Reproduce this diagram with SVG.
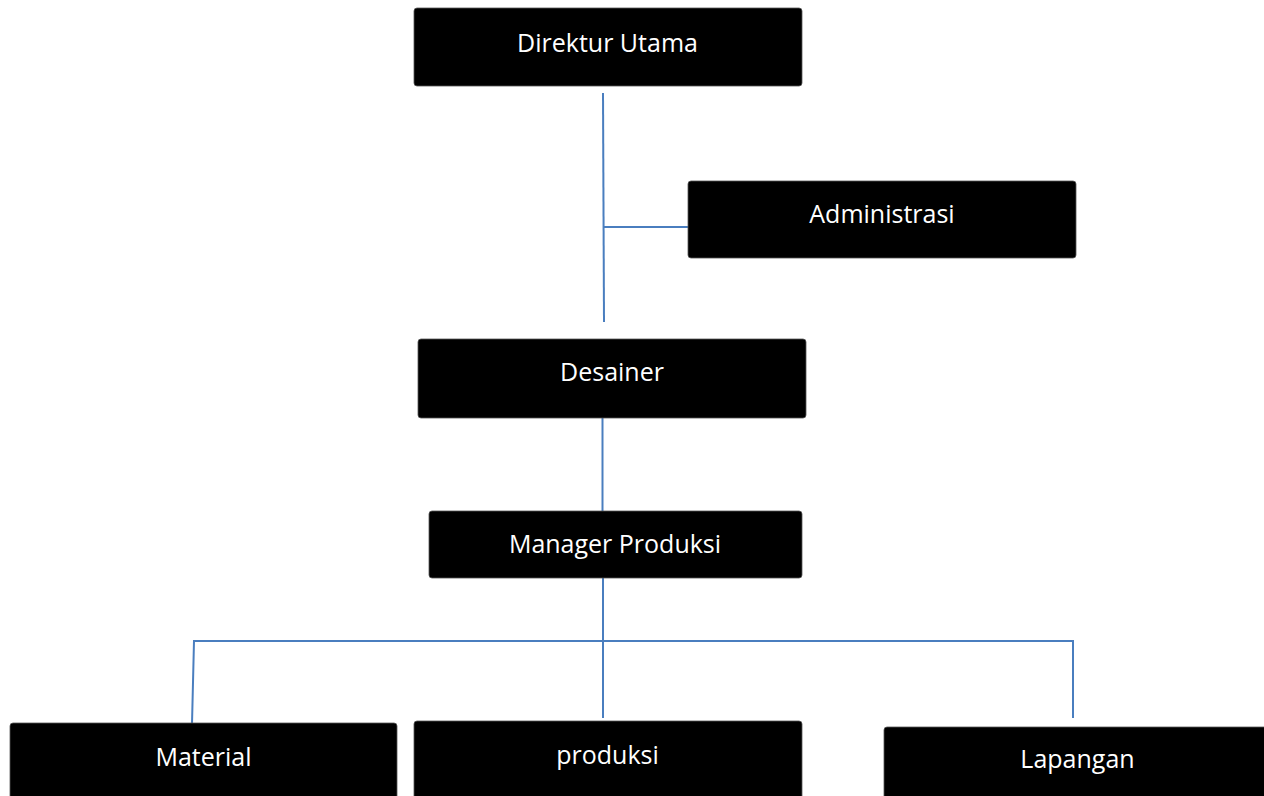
<svg xmlns="http://www.w3.org/2000/svg" width="1264" height="796" viewBox="0 0 1264 796">
<style>
.box{fill:#000;stroke:#555;stroke-width:0.8}
.lbl{fill:#fff;font-family:"Open Sans","Liberation Sans",sans-serif;font-size:25px;text-anchor:middle}
.conn{stroke:#4a7ebf;stroke-width:2;fill:none}
</style>
<rect width="1264" height="796" fill="#fff"/>
<g id="connectors">
<line class="conn" x1="603" y1="93" x2="604" y2="322"/>
<line class="conn" x1="604" y1="227" x2="690" y2="227"/>
<line class="conn" x1="602.5" y1="413" x2="602.5" y2="522"/>
<line class="conn" x1="603" y1="578" x2="603" y2="718"/>
<polyline class="conn" points="192,724 194,641 1073,641 1073,718"/>
</g>
<g id="n-direktur"><rect class="box" x="414" y="8" width="388" height="78" rx="3"/><text class="lbl" x="607.5" y="52">Direktur Utama</text></g>
<g id="n-admin"><rect class="box" x="688" y="181" width="388" height="77" rx="3"/><text class="lbl" x="882" y="223">Administrasi</text></g>
<g id="n-desainer"><rect class="box" x="418" y="339" width="388" height="79" rx="3"/><text class="lbl" x="612" y="381">Desainer</text></g>
<g id="n-manager"><rect class="box" x="429" y="511" width="373" height="67" rx="3"/><text class="lbl" x="615" y="553">Manager Produksi</text></g>
<g id="n-material"><rect class="box" x="10" y="723" width="387" height="80" rx="3"/><text class="lbl" x="203.5" y="766">Material</text></g>
<g id="n-produksi"><rect class="box" x="414" y="721" width="388" height="80" rx="3"/><text class="lbl" x="607.5" y="764">produksi</text></g>
<g id="n-lapangan"><rect class="box" x="884" y="727" width="390" height="80" rx="3"/><text class="lbl" x="1077.5" y="768">Lapangan</text></g>
</svg>
